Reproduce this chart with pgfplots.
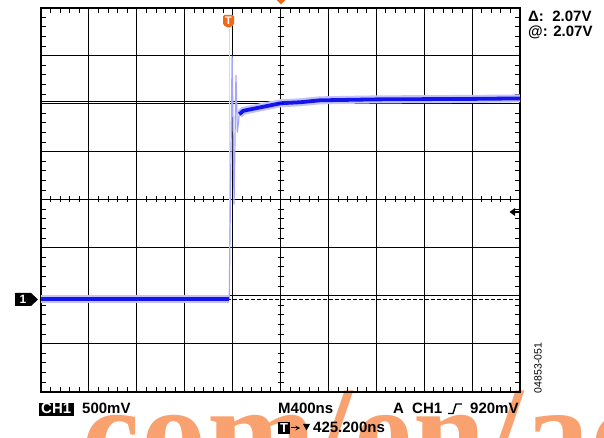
\documentclass[border=0pt]{standalone}
\usepackage{pgfplots}
\pgfplotsset{compat=1.18}
\usepackage{fontspec}
\setmainfont{Liberation Sans}
\newfontfamily\wmfont[LetterSpace=1]{Liberation Serif}
\definecolor{trace}{RGB}{20,20,235}
\definecolor{halo}{RGB}{195,195,255}
\definecolor{spike}{RGB}{165,165,255}
\definecolor{faint}{RGB}{215,215,250}
\definecolor{mk}{RGB}{240,105,25}
\definecolor{wm}{RGB}{249,162,112}
\begin{document}
\begin{tikzpicture}[x=1pt,y=1pt]
\useasboundingbox (0,0) rectangle (604,438);
% watermark
\node[anchor=base west, inner sep=0, text=wm, font=\wmfont\bfseries\fontsize{130}{130}\selectfont] at (82,-38) {com/en/ad};
\begin{axis}[at={(41pt,46.3pt)}, anchor=south west, scale only axis,
  width=479pt, height=384pt, xmin=0, xmax=10, ymin=0, ymax=8,
  xtick={0,...,10}, ytick={0,...,8}, xticklabels={}, yticklabels={},
  grid=major, major grid style={black, line width=1.1pt},
  minor x tick num=4, minor y tick num=4,
  major tick length=0pt, minor tick length=5pt,
  minor tick style={black, line width=0.9pt},
  axis line style={black, line width=2pt}]
% cursors
\addplot[black, line width=0.9pt, dash pattern=on 3.5pt off 2.5pt] coordinates {(0,1.914) (10,1.914)};
\addplot[black, line width=1pt] coordinates {(0,6.054) (10,6.054)};
% faint transition
\addplot[faint, line width=1pt] coordinates {(3.925,1.935) (3.925,7.55)};
\addplot[spike, line width=1.2pt] coordinates {(3.93,1.935) (3.99,7.0) (4.03,3.9) (4.07,6.6) (4.10,5.4) (4.14,5.78)};
% low level
\addplot[halo, line width=8pt] coordinates {(0,1.935) (3.92,1.935)};
\addplot[trace, line width=3.5pt] coordinates {(0,1.935) (3.92,1.935)};
% settling level
\addplot[halo, line width=8pt] coordinates {(4.14,5.78) (4.22,5.85) (4.36,5.88) (4.71,5.95) (5.01,6.01) (5.41,6.03) (5.82,6.07) (7.01,6.09) (9.02,6.10) (10.0,6.11)};
\addplot[trace, line width=3.8pt] coordinates {(4.14,5.78) (4.22,5.85) (4.36,5.88) (4.71,5.95) (5.01,6.01) (5.41,6.03) (5.82,6.07) (7.01,6.09) (9.02,6.10) (10.0,6.11)};
\end{axis}
% centre-line ticks
\foreach \i in {1,...,49} {\draw[line width=0.9pt] ({41+\i*9.58},235.5) -- ({41+\i*9.58},241.5);}
\foreach \j in {1,...,39} {\draw[line width=0.9pt] (277.5,{46.3+\j*9.6}) -- (283.5,{46.3+\j*9.6});}
% channel marker
\fill[black] (15,145) -- (31,145) -- (38,138.5) -- (31,132) -- (15,132) -- cycle;
\node[text=white, font=\bfseries\fontsize{12}{12}\selectfont, inner sep=0] at (23,138.5) {1};
% trigger marker
\fill[mk, rounded corners=1.5pt] (223,413) -- (223,423) -- (234,423) -- (234,413) -- (228.5,410) -- cycle;
\node[text=white, font=\bfseries\fontsize{11}{11}\selectfont, inner sep=0] at (228.5,417) {T};
\fill[mk] (276.5,438) -- (285.5,438) -- (281,433.5) -- cycle;
% trigger level arrow
\fill[black] (509.5,226) -- (515,230) -- (515,222) -- cycle;
\draw[line width=1.6pt] (514,226) -- (519,226);
% readouts
\node[anchor=base west, inner sep=0, font=\bfseries\fontsize{15}{18}\selectfont] at (528,416.5) {Δ:\ \ 2.07V};
\node[anchor=base west, inner sep=0, font=\bfseries\fontsize{15}{18}\selectfont] at (528,401.5) {@: 2.07V};
\fill[black] (39,22) rectangle (74,35);
\node[anchor=base west, inner sep=0, text=white, font=\bfseries\fontsize{15}{18}\selectfont] at (41,24) {CH1};
\node[anchor=base west, inner sep=0, font=\bfseries\fontsize{15}{18}\selectfont] at (82,24) {500mV};
\node[anchor=base west, inner sep=0, font=\bfseries\fontsize{15}{18}\selectfont] at (278,24) {M400ns};
\node[anchor=base west, inner sep=0, font=\bfseries\fontsize{15}{18}\selectfont] at (393,24) {A};
\node[anchor=base west, inner sep=0, font=\bfseries\fontsize{15}{18}\selectfont] at (412,24) {CH1};
\draw[line width=1.4pt] (448,24.5) -- (453,24.5) -- (456,34) -- (462,34);
\node[anchor=base west, inner sep=0, font=\bfseries\fontsize{15}{18}\selectfont] at (470,24) {920mV};
\fill[black] (278,4) rectangle (290,16);
\node[text=white, font=\bfseries\fontsize{13}{13}\selectfont, inner sep=0] at (284,10) {T};
\draw[-stealth, line width=1pt] (291,10) -- (300,10);
\fill[black] (303,14) -- (310,14) -- (306.5,7.5) -- cycle;
\node[anchor=base west, inner sep=0, font=\bfseries\fontsize{15}{18}\selectfont] at (313,5) {425.200ns};
\node[rotate=90, inner sep=0, font=\fontsize{10.5}{12}\selectfont] at (538,70) {04853-051};
\end{tikzpicture}
\end{document}
